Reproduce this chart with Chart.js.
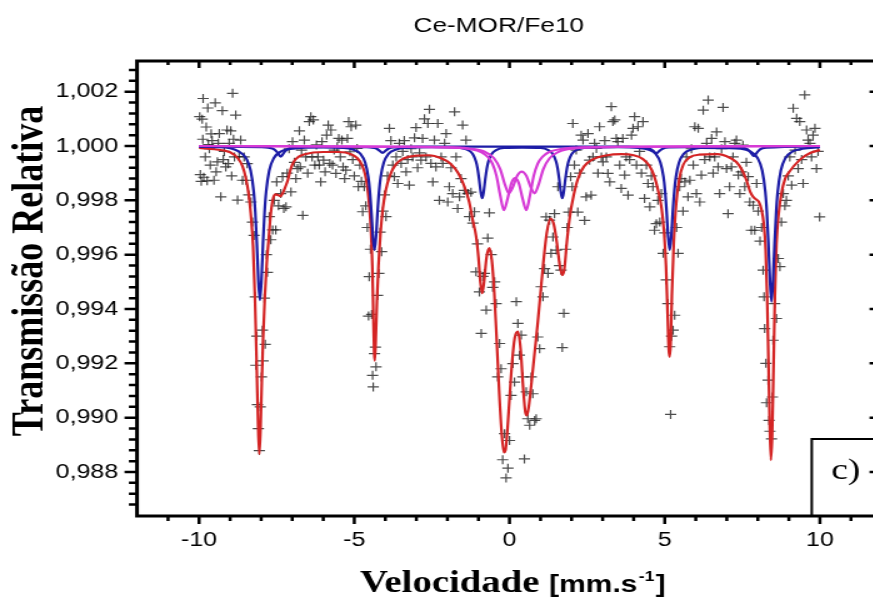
<!DOCTYPE html>
<html>
<head>
<meta charset="utf-8">
<script src="https://cdn.jsdelivr.net/npm/chart.js@4.4.1/dist/chart.umd.min.js"></script>
<style>
  html, body { margin: 0; padding: 0; background: #fff; overflow: hidden; }
  #wrap { width: 873px; height: 597px; overflow: hidden; }
  /* the source figure is stretched sideways, about 1.25x */
  #chart { display: block; transform: scaleX(1.25); transform-origin: 0 0; }
</style>
</head>
<body>
<div id="wrap"><canvas id="chart" width="720" height="597"></canvas></div>
<script>
const velocityTicks = [-10, -5, 0, 5, 10];
const transmissionTicks = [0.988, 0.990, 0.992, 0.994, 0.996, 0.998, 1.000, 1.002];

// measured spectrum [velocity mm/s, relative transmission]
const measured = [
  [-9.98,1.00108],[-9.96,0.99895],[-9.93,0.99870],[-9.90,1.00099],[-9.88,1.00025],[-9.87,1.00175],[-9.85,0.99885],
  [-9.80,0.99960],[-9.77,1.00070],[-9.74,0.99872],[-9.72,1.00140],[-9.70,1.00005],[-9.67,0.99990],[-9.64,0.99930],
  [-9.61,1.00045],[-9.58,1.00020],[-9.52,0.99874],[-9.48,1.00159],[-9.45,0.99905],[-9.41,0.99942],[-9.38,1.00010],
  [-9.35,1.00046],[-9.30,0.99813],[-9.25,1.00130],[-9.22,0.99950],[-9.19,0.99980],[-9.14,0.99923],[-9.10,1.00059],
  [-9.06,0.99935],[-9.03,1.00010],[-8.98,1.00056],[-8.95,0.99890],[-8.92,1.00194],[-8.89,1.00025],[-8.86,0.99960],
  [-8.82,1.00114],[-8.76,0.99801],[-8.71,0.99961],[-8.66,1.00022],[-8.60,0.99874],[-8.55,0.99960],
  [-8.49,0.99874],[-8.45,0.99935],[-8.40,0.99820],[-8.33,0.99794],[-8.28,0.99720],[-8.23,0.99671],[-8.19,0.99445],
  [-8.17,0.99193],[-8.14,0.99300],[-8.12,0.99048],[-8.09,0.98960],[-8.06,0.98879],[-8.03,0.99040],[-7.99,0.99150],
  [-7.96,0.99322],[-7.94,0.99209],[-7.90,0.99440],[-7.87,0.99270],[-7.83,0.99600],[-7.80,0.99535],[-7.74,0.99740],
  [-7.69,0.99655],[-7.63,0.99691],[-7.58,0.99800],[-7.53,0.99691],[-7.50,0.99868],[-7.44,0.99780],[-7.37,0.99825],
  [-7.31,0.99887],[-7.27,0.99770],[-7.20,0.99776],[-7.16,0.99900],[-7.10,0.99990],[-7.04,0.99831],[-6.99,1.00016],
  [-6.93,0.99940],[-6.88,0.99880],[-6.83,0.99917],[-6.77,1.00056],[-6.74,0.99923],[-6.70,0.99985],[-6.66,0.99745],
  [-6.61,1.00022],[-6.56,0.99960],[-6.50,0.99900],[-6.45,1.00090],[-6.40,1.00108],[-6.36,0.99960],[-6.32,1.00096],
  [-6.27,0.99930],[-6.22,1.00004],[-6.17,0.99960],[-6.13,0.99930],[-6.08,0.99868],[-6.04,1.00016],[-5.99,0.99948],
  [-5.94,0.99905],[-5.89,1.00040],[-5.84,1.00077],[-5.79,0.99936],[-5.75,1.00059],[-5.70,0.99930],[-5.65,0.99985],
  [-5.59,0.99899],[-5.55,0.99997],[-5.50,1.00028],[-5.45,0.99960],[-5.40,1.00022],[-5.36,0.99923],[-5.31,0.99880],
  [-5.27,0.99911],[-5.22,1.00028],[-5.18,1.00090],[-5.14,0.99979],[-5.10,1.00071],[-5.05,0.99950],[-5.00,0.99890],
  [-4.95,1.00077],[-4.91,0.99991],[-4.87,0.99850],[-4.82,0.99930],[-4.77,0.99870],[-4.73,0.99758],[-4.68,0.99850],
  [-4.63,0.99780],[-4.58,0.99700],[-4.54,0.99374],[-4.52,0.99519],[-4.48,0.99620],[-4.44,0.99380],[-4.41,0.99156],
  [-4.39,0.99113],[-4.35,0.99236],[-4.32,0.99260],[-4.30,0.99187],[-4.25,0.99450],[-4.21,0.99531],[-4.17,0.99683],
  [-4.12,0.99611],[-4.08,0.99760],[-4.03,0.99820],[-3.98,0.99740],[-3.93,0.99890],[-3.87,1.00065],[-3.82,1.00020],
  [-3.76,0.99930],[-3.71,0.99887],[-3.65,0.99960],[-3.60,0.99862],[-3.55,1.00010],[-3.49,0.99936],[-3.44,0.99980],
  [-3.39,1.00020],[-3.33,0.99905],[-3.28,0.99950],[-3.23,0.99856],[-3.17,0.99990],[-3.12,0.99960],[-3.06,1.00030],
  [-3.01,1.00068],[-2.96,0.99920],[-2.90,0.99975],[-2.85,0.99948],[-2.80,1.00028],[-2.74,1.00100],[-2.69,0.99960],
  [-2.63,1.00083],[-2.58,1.00135],[-2.53,0.99936],[-2.47,0.99868],[-2.42,1.00022],[-2.37,0.99923],[-2.31,1.00083],
  [-2.26,0.99800],[-2.20,0.99960],[-2.15,0.99936],[-2.09,1.00010],[-2.04,1.00046],[-1.99,0.99794],[-1.94,0.99850],
  [-1.88,0.99920],[-1.83,0.99825],[-1.77,1.00126],[-1.72,0.99960],[-1.67,0.99770],[-1.61,0.99813],[-1.56,0.99880],
  [-1.51,1.00077],[-1.46,0.99837],[-1.40,1.00022],[-1.34,0.99825],[-1.29,0.99740],[-1.24,0.99830],[-1.18,0.99716],
  [-1.13,0.99758],[-1.08,0.99537],[-1.03,0.99640],[-0.97,0.99463],[-0.91,0.99310],[-0.86,0.99520],[-0.81,0.99531],
  [-0.75,0.99396],[-0.70,0.99661],[-0.65,0.99754],[-0.59,0.99600],[-0.54,0.99480],[-0.48,0.99500],[-0.43,0.99420],
  [-0.38,0.99150],[-0.32,0.99273],[-0.27,0.99180],[-0.22,0.98845],[-0.16,0.98941],[-0.11,0.98778],[-0.05,0.98814],
  [0.00,0.98916],[0.05,0.99082],[0.11,0.99199],[0.16,0.99131],[0.22,0.99427],[0.27,0.99347],[0.32,0.99230],
  [0.38,0.99304],[0.43,0.99150],[0.48,0.98848],[0.54,0.99095],[0.59,0.98996],[0.65,0.98972],[0.70,0.99150],
  [0.75,0.99088],[0.81,0.98990],[0.86,0.98996],[0.91,0.99297],[0.97,0.99254],[1.02,0.99482],[1.08,0.99445],
  [1.13,0.99549],[1.18,0.99739],[1.24,0.99531],[1.29,0.99727],[1.34,0.99605],[1.40,0.99665],[1.45,0.99751],
  [1.51,0.99617],[1.56,0.99850],[1.61,0.99560],[1.66,0.99543],[1.70,0.99258],[1.75,0.99384],[1.81,0.99620],
  [1.86,0.99700],[1.91,0.99757],[1.97,0.99887],[2.02,0.99850],[2.04,1.00083],[2.09,0.99930],[2.15,0.99985],
  [2.20,0.99757],[2.26,0.99900],[2.31,1.00040],[2.37,1.00022],[2.42,0.99726],[2.47,0.99813],[2.53,1.00046],
  [2.58,0.99948],[2.63,0.99819],[2.69,0.99960],[2.74,1.00010],[2.80,0.99991],[2.85,0.99900],[2.90,1.00071],
  [2.96,0.99960],[3.01,0.99942],[3.07,1.00020],[3.12,0.99960],[3.17,0.99899],[3.23,0.99868],[3.28,1.00145],
  [3.33,1.00090],[3.39,1.00096],[3.44,1.00028],[3.49,1.00016],[3.55,0.99930],[3.60,0.99844],[3.65,1.00028],
  [3.71,0.99893],[3.76,0.99960],[3.82,0.99819],[3.87,0.99950],[3.93,1.00040],[3.98,1.00065],[4.03,1.00108],
  [4.09,0.99930],[4.14,1.00071],[4.19,0.99980],[4.25,0.99900],[4.30,1.00090],[4.35,0.99807],[4.41,0.99930],
  [4.46,0.99862],[4.52,0.99776],[4.57,0.99890],[4.62,0.99850],[4.67,0.99690],[4.73,0.99714],[4.78,0.99800],
  [4.84,0.99720],[4.89,0.99825],[4.95,0.99605],[5.00,0.99680],[5.05,0.99507],[5.10,0.99420],[5.16,0.99261],
  [5.19,0.99012],[5.22,0.99300],[5.27,0.99322],[5.32,0.99377],[5.38,0.99700],[5.43,0.99605],[5.48,0.99850],
  [5.53,0.99880],[5.59,0.99760],[5.65,0.99868],[5.70,0.99960],[5.75,0.99813],[5.81,0.99874],[5.86,0.99990],
  [5.92,0.99930],[5.97,1.00071],[6.02,0.99825],[6.08,1.00065],[6.13,0.99794],[6.18,0.99893],[6.24,1.00132],
  [6.29,0.99950],[6.35,1.00010],[6.40,1.00169],[6.45,0.99960],[6.51,1.00028],[6.56,0.99900],[6.61,0.99960],
  [6.67,1.00052],[6.72,0.99923],[6.77,0.99825],[6.83,0.99990],[6.88,1.00142],[6.94,1.00016],[6.99,0.99917],
  [7.04,0.99751],[7.09,0.99850],[7.15,0.99923],[7.20,0.99960],[7.26,1.00010],[7.31,1.00022],[7.37,0.99893],
  [7.42,0.99825],[7.47,0.99905],[7.52,1.00003],[7.58,0.99850],[7.63,0.99940],[7.69,0.99887],[7.74,0.99794],
  [7.79,0.99690],[7.85,0.99782],[7.90,0.99690],[7.96,0.99862],[8.01,0.99760],[8.07,0.99650],[8.12,0.99700],
  [8.17,0.99543],[8.20,0.99445],[8.22,0.99328],[8.26,0.99200],[8.28,0.99055],[8.33,0.99138],[8.36,0.98990],
  [8.39,0.98950],[8.44,0.98922],[8.47,0.99076],[8.49,0.99285],[8.54,0.99420],[8.60,0.99365],[8.66,0.99586],
  [8.71,0.99556],[8.76,0.99720],[8.82,0.99825],[8.87,0.99780],[8.92,0.99800],[8.98,0.99890],[9.03,0.99960],
  [9.09,0.99856],[9.14,1.00139],[9.20,0.99985],[9.25,1.00102],[9.30,0.99917],[9.35,1.00090],[9.41,0.99950],
  [9.46,0.99862],[9.51,1.00188],[9.57,1.00059],[9.62,1.00022],[9.68,1.00010],[9.73,0.99960],[9.78,1.00040],
  [9.84,1.00065],[9.89,0.99917],[9.94,0.99980],[9.99,0.99739]
];

// total fit (red)
const totalFit = [
  [-10.0,0.99993],[-9.5,0.99988],[-9.0,0.99977],[-8.75,0.99955],[-8.6,0.99925],[-8.5,0.99885],[-8.4,0.99820],
  [-8.32,0.99730],[-8.26,0.99630],[-8.2,0.99440],[-8.14,0.99170],[-8.1,0.98980],[-8.06,0.98866],[-8.02,0.98960],
  [-7.98,0.99130],[-7.94,0.99285],[-7.88,0.99450],[-7.82,0.99570],[-7.76,0.99654],[-7.70,0.99740],[-7.63,0.99800],
  [-7.55,0.99822],[-7.46,0.99820],[-7.38,0.99815],[-7.30,0.99828],[-7.22,0.99850],[-7.14,0.99875],[-7.05,0.99915],
  [-6.95,0.99942],[-6.8,0.99960],[-6.6,0.99970],[-6.0,0.99978],[-5.5,0.99978],[-5.1,0.99970],[-4.9,0.99955],
  [-4.75,0.99930],[-4.65,0.99895],[-4.57,0.99840],[-4.51,0.99770],[-4.46,0.99680],[-4.42,0.99560],[-4.39,0.99400],
  [-4.36,0.99240],[-4.34,0.99210],[-4.31,0.99280],[-4.27,0.99430],[-4.22,0.99560],[-4.16,0.99670],[-4.08,0.99770],
  [-3.98,0.99840],[-3.85,0.99892],[-3.65,0.99934],[-3.4,0.99955],[-3.0,0.99965],[-2.6,0.99966],[-2.2,0.99955],
  [-1.9,0.99935],[-1.65,0.99900],[-1.45,0.99850],[-1.3,0.99795],[-1.18,0.99725],[-1.08,0.99670],[-1.0,0.99590],
  [-0.94,0.99500],[-0.88,0.99458],[-0.82,0.99500],[-0.74,0.99590],[-0.65,0.99624],[-0.57,0.99580],[-0.49,0.99460],
  [-0.41,0.99280],[-0.33,0.99090],[-0.25,0.98940],[-0.18,0.98872],[-0.13,0.98880],[-0.07,0.98950],[0.0,0.99070],
  [0.08,0.99200],[0.17,0.99295],[0.27,0.99317],[0.36,0.99250],[0.44,0.99110],[0.51,0.99020],[0.56,0.99008],
  [0.62,0.99040],[0.71,0.99130],[0.81,0.99240],[0.91,0.99350],[1.0,0.99460],[1.09,0.99570],[1.2,0.99680],
  [1.32,0.99733],[1.43,0.99710],[1.53,0.99640],[1.62,0.99560],[1.7,0.99525],[1.77,0.99550],[1.85,0.99650],
  [1.95,0.99745],[2.07,0.99820],[2.2,0.99878],[2.4,0.99925],[2.7,0.99952],[3.1,0.99965],[3.6,0.99970],
  [4.0,0.99966],[4.3,0.99952],[4.5,0.99928],[4.65,0.99893],[4.78,0.99840],[4.9,0.99770],[4.98,0.99680],
  [5.04,0.99560],[5.09,0.99390],[5.13,0.99250],[5.16,0.99224],[5.19,0.99270],[5.23,0.99450],[5.29,0.99640],
  [5.37,0.99790],[5.47,0.99880],[5.6,0.99932],[5.8,0.99958],[6.1,0.99968],[6.7,0.99970],[7.0,0.99962],
  [7.3,0.99942],[7.5,0.99910],[7.63,0.99875],[7.75,0.99832],[7.85,0.99813],[7.95,0.99803],[8.03,0.99795],
  [8.12,0.99765],[8.19,0.99715],[8.25,0.99620],[8.3,0.99440],[8.34,0.99220],[8.38,0.98990],[8.42,0.98844],
  [8.46,0.98930],[8.5,0.99150],[8.55,0.99450],[8.6,0.99640],[8.67,0.99750],[8.76,0.99826],[8.88,0.99880],
  [8.98,0.99900],[9.35,0.99949],[9.7,0.99975],[10.0,0.99985]
];

// sharp sextet (blue)
const sextetMain = [
  [-10.0,0.99998],[-9.5,0.99996],[-9.0,0.99992],[-8.74,0.99981],[-8.49,0.99956],[-8.34,0.99910],[-8.24,0.99832],
  [-8.19,0.99757],[-8.14,0.99644],[-8.09,0.99506],[-8.04,0.99433],[-7.99,0.99506],[-7.94,0.99644],[-7.89,0.99757],
  [-7.84,0.99832],[-7.74,0.99910],[-7.59,0.99956],[-7.34,0.99981],[-7.0,0.99990],[-6.0,0.99995],[-5.35,0.99993],
  [-5.05,0.99987],[-4.80,0.99971],[-4.65,0.99939],[-4.55,0.99886],[-4.50,0.99836],[-4.45,0.99759],[-4.40,0.99666],
  [-4.35,0.99617],[-4.30,0.99666],[-4.25,0.99759],[-4.20,0.99836],[-4.15,0.99886],[-4.05,0.99939],[-3.90,0.99971],
  [-3.65,0.99987],[-3.35,0.99993],[-2.5,0.99996],[-1.88,0.99995],[-1.58,0.99993],[-1.33,0.99985],[-1.18,0.99970],
  [-1.08,0.99943],[-1.03,0.99918],[-0.98,0.99879],[-0.93,0.99833],[-0.88,0.99808],[-0.83,0.99833],[-0.78,0.99879],
  [-0.73,0.99918],[-0.68,0.99943],[-0.58,0.99970],[-0.43,0.99985],[-0.18,0.99993],[0.41,0.99994],[1.00,0.99993],
  [1.25,0.99985],[1.40,0.99970],[1.50,0.99943],[1.55,0.99918],[1.60,0.99879],[1.65,0.99833],[1.70,0.99808],
  [1.75,0.99833],[1.80,0.99879],[1.85,0.99918],[1.90,0.99943],[2.00,0.99970],[2.15,0.99985],[2.40,0.99993],
  [3.5,0.99996],[4.16,0.99993],[4.46,0.99987],[4.71,0.99971],[4.86,0.99939],[4.96,0.99886],[5.01,0.99836],
  [5.06,0.99759],[5.11,0.99666],[5.16,0.99617],[5.21,0.99666],[5.26,0.99759],[5.31,0.99836],[5.36,0.99886],
  [5.46,0.99939],[5.61,0.99971],[5.86,0.99987],[6.16,0.99993],[7.0,0.99992],[7.44,0.99990],[7.74,0.99981],
  [7.99,0.99956],[8.14,0.99910],[8.24,0.99832],[8.29,0.99757],[8.34,0.99644],[8.39,0.99506],[8.44,0.99427],
  [8.49,0.99506],[8.54,0.99644],[8.59,0.99757],[8.64,0.99832],[8.74,0.99910],[8.89,0.99956],[9.14,0.99981],
  [9.44,0.99990],[10.0,0.99996]
];

// weak sextet (blue)
const sextetWeak = [
  [-10.0,0.99998],[-8.0,0.99996],[-7.77,0.99994],[-7.57,0.99987],[-7.47,0.99975],[-7.37,0.99961],[-7.27,0.99975],
  [-7.17,0.99987],[-6.97,0.99994],[-6.5,0.99997],[-4.6,0.99996],[-4.49,0.99995],[-4.29,0.99991],[-4.19,0.99983],
  [-4.09,0.99975],[-3.99,0.99983],[-3.89,0.99991],[-3.69,0.99995],[-3.0,0.99998],[3.8,0.99998],[4.33,0.99995],
  [4.53,0.99990],[4.63,0.99982],[4.73,0.99973],[4.83,0.99982],[4.93,0.99990],[5.13,0.99995],[6.5,0.99997],
  [7.47,0.99994],[7.67,0.99988],[7.77,0.99976],[7.87,0.99963],[7.97,0.99976],[8.07,0.99988],[8.27,0.99994],
  [10.0,0.99998]
];

// doublets (magenta)
const doubletA = [
  [-10.0,1.0],[-2.0,0.99995],[-1.3,0.99989],[-0.9,0.99977],[-0.7,0.99960],[-0.55,0.99935],[-0.42,0.99890],
  [-0.3,0.99819],[-0.18,0.99764],[-0.06,0.99807],[0.06,0.99863],[0.18,0.99882],[0.30,0.99863],[0.42,0.99807],
  [0.54,0.99764],[0.66,0.99819],[0.78,0.99890],[0.91,0.99935],[1.06,0.99960],[1.26,0.99977],[1.66,0.99989],
  [2.36,0.99995],[10.0,1.0]
];
const doubletB = [
  [-10.0,1.0],[-2.2,0.99996],[-1.3,0.99991],[-0.8,0.99979],[-0.5,0.99955],[-0.3,0.99915],[-0.15,0.99859],
  [-0.02,0.99826],[0.1,0.99847],[0.25,0.99891],[0.395,0.99906],[0.54,0.99891],[0.69,0.99847],[0.81,0.99826],
  [0.94,0.99859],[1.09,0.99915],[1.29,0.99955],[1.59,0.99979],[2.09,0.99991],[2.99,0.99996],[10.0,1.0]
];

const RED = "#d42424";
const BLUE = "#1c1ca6";
const MAGENTA = "#d63ad6";

const toXY = arr => arr.map(([x, y]) => ({ x, y }));

function fitLine(points, color) {
  return {
    data: toXY(points),
    showLine: true,
    borderColor: color,
    borderWidth: 2.2,
    pointRadius: 0,
    pointHoverRadius: 0,
    fill: false,
    cubicInterpolationMode: "monotone"
  };
}

// frame, tick marks (all four sides) and the "c)" box
const framePlugin = {
  id: "frame",
  afterDatasetsDraw(chart) {
    const { ctx, chartArea: a, scales: { x, y } } = chart;
    ctx.save();

    // label box, lower right
    const bx = 649.4, by = 439;
    ctx.fillStyle = "#fff";
    ctx.fillRect(bx, by, a.right - bx, a.bottom - by);
    ctx.strokeStyle = "#000";
    ctx.lineWidth = 2;
    ctx.strokeRect(bx, by, a.right - bx, a.bottom - by);
    ctx.fillStyle = "#000";
    ctx.font = '30px "Liberation Serif", "Times New Roman", serif';
    ctx.textAlign = "left";
    ctx.textBaseline = "alphabetic";
    ctx.fillText("c)", 665, 479);

    ctx.lineWidth = 2.5;
    ctx.beginPath();
    for (let v = -11; v <= 11; v++) {
      const px = x.getPixelForValue(v);
      const major = v % 5 === 0;
      ctx.moveTo(px, a.bottom);
      ctx.lineTo(px, a.bottom + (major ? 8 : 5));
      ctx.moveTo(px, a.top);
      ctx.lineTo(px, a.top + (major ? 7 : 4));
    }
    for (let n = 9868; n <= 10028; n += 4) {
      const py = y.getPixelForValue(n / 10000);
      const major = (n - 9880) % 20 === 0;
      ctx.moveTo(a.left, py);
      ctx.lineTo(a.left - (major ? 10 : 6.5), py);
      ctx.moveTo(a.right, py);
      ctx.lineTo(a.right - (major ? 10 : 6.5), py);
    }
    ctx.stroke();

    ctx.lineWidth = 3;
    ctx.strokeRect(a.left, a.top, a.right - a.left, a.bottom - a.top);
    ctx.restore();
  }
};

// title and axis titles
const textPlugin = {
  id: "titles",
  afterDraw(chart) {
    const { ctx } = chart;
    ctx.save();
    ctx.fillStyle = "#000";
    ctx.textBaseline = "alphabetic";

    ctx.font = '21px "Liberation Sans", Arial, sans-serif';
    ctx.textAlign = "center";
    ctx.fillText("Ce-MOR/Fe10", 399, 31.5);

    ctx.save();
    ctx.translate(33.6, 271);
    ctx.rotate(-Math.PI / 2);
    ctx.font = 'bold 36px "Liberation Serif", "Times New Roman", serif';
    ctx.fillText("Transmissão Relativa", 0, 0);
    ctx.restore();

    ctx.textAlign = "left";
    const base = 592;
    let px = 288;
    ctx.font = 'bold 31px "Liberation Serif", "Times New Roman", serif';
    ctx.fillText("Velocidade ", px, base);
    px += ctx.measureText("Velocidade ").width;
    ctx.font = 'bold 24px "Liberation Sans", Arial, sans-serif';
    ctx.fillText("[mm.s", px, base);
    px += ctx.measureText("[mm.s").width + 1;
    ctx.font = 'bold 14px "Liberation Sans", Arial, sans-serif';
    ctx.fillText("-1", px, base - 11);
    px += ctx.measureText("-1").width + 1;
    ctx.font = 'bold 24px "Liberation Sans", Arial, sans-serif';
    ctx.fillText("]", px, base);

    ctx.restore();
  }
};

new Chart(document.getElementById("chart"), {
  type: "scatter",
  data: {
    datasets: [
      fitLine(doubletA, MAGENTA),
      fitLine(doubletB, MAGENTA),
      fitLine(sextetMain, BLUE),
      fitLine(sextetWeak, BLUE),
      fitLine(totalFit, RED),
      {
        data: toXY(measured),
        showLine: false,
        pointStyle: "cross",
        pointRadius: 4.5,
        pointHoverRadius: 4.5,
        pointBorderColor: "rgba(25,25,25,0.78)",
        pointBackgroundColor: "rgba(25,25,25,0.78)",
        pointBorderWidth: 1.2
      }
    ]
  },
  options: {
    responsive: false,
    animation: false,
    devicePixelRatio: 1,
    layout: { padding: { left: 0, right: 14.4, top: 61, bottom: 0 } },
    plugins: {
      legend: { display: false },
      tooltip: { enabled: false },
      title: { display: false }
    },
    scales: {
      x: {
        type: "linear",
        min: -12,
        max: 12,
        afterBuildTicks: s => { s.ticks = velocityTicks.map(v => ({ value: v })); },
        afterFit: s => { s.height = 81; },
        grid: { display: false, drawTicks: false },
        border: { display: false },
        ticks: {
          color: "#000",
          padding: 12.5,
          maxRotation: 0,
          font: { family: '"Liberation Sans", Arial, sans-serif', size: 20 },
          callback: v => String(v)
        }
      },
      y: {
        type: "linear",
        min: 0.98638,
        max: 1.00313,
        afterBuildTicks: s => { s.ticks = transmissionTicks.map(v => ({ value: v })); },
        afterFit: s => { s.width = 109.6; },
        grid: { display: false, drawTicks: false },
        border: { display: false },
        ticks: {
          color: "#000",
          padding: 15,
          font: { family: '"Liberation Sans", Arial, sans-serif', size: 20 },
          callback: v => v.toFixed(3).replace(".", ",")
        }
      }
    }
  },
  plugins: [framePlugin, textPlugin]
});
</script>
</body>
</html>
